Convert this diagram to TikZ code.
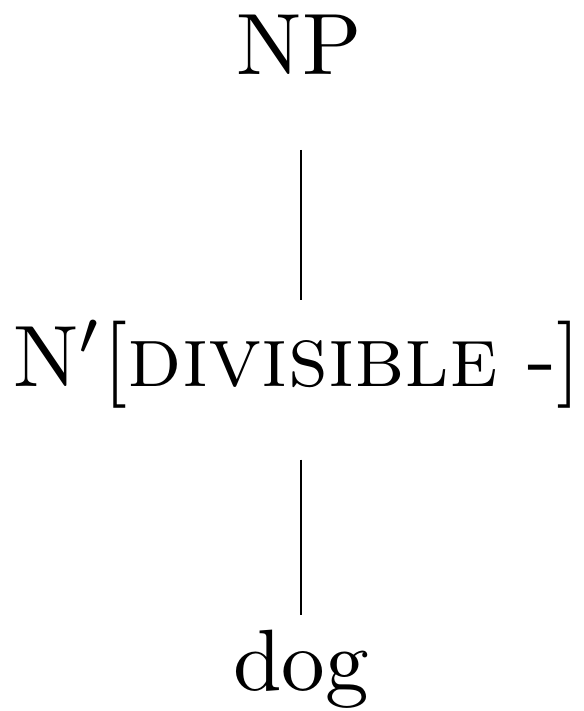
\documentclass[tikz,border=0pt]{standalone}
\begin{document}
\begin{tikzpicture}[x=0.11364pt,y=-0.11364pt,
  lab/.style={inner sep=0pt,outer sep=0pt,anchor=base,font=\fontsize{9.9}{12}\selectfont},
  edge/.style={line width=0.25pt}]
\useasboundingbox (0,0) rectangle (583,711);
\node[lab] (np) at (299,75) {NP};
\node[lab] (nbar) at (297,386) {N$'$[\textsc{divisible} -]};
\node[lab] (dog) at (301,690) {dog};
\draw[edge,shorten <=8.5pt,shorten >=2.2pt] (np.south -| 301,0) -- (nbar.north -| 301,0);
\draw[edge,shorten <=5.9pt,shorten >=1.7pt] (nbar.south -| 301,0) -- (dog.north -| 301,0);
\end{tikzpicture}
\end{document}
